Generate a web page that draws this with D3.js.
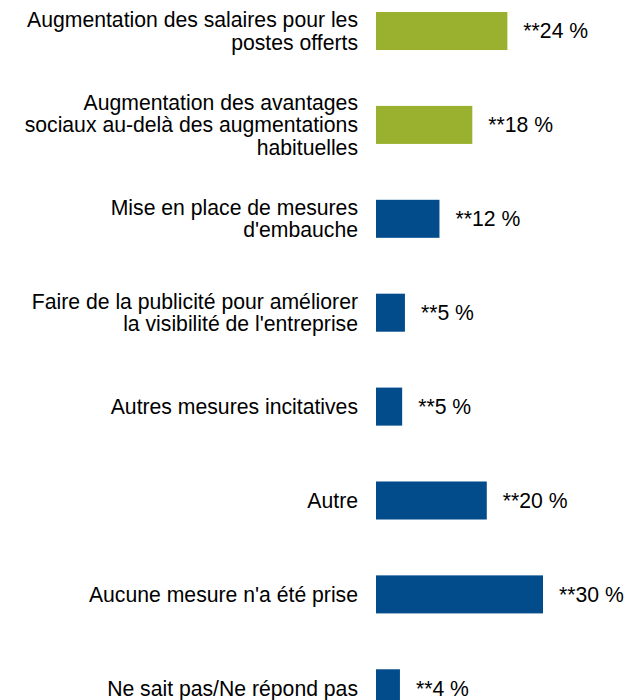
<!DOCTYPE html>
<html>
<head>
<meta charset="utf-8">
<script src="https://cdn.jsdelivr.net/npm/d3@7"></script>
<style>
  body { margin: 0; background: #fff; }
  text { font-family: Arial, "Liberation Sans", sans-serif; fill: #000; }
</style>
</head>
<body>
<div id="container"></div>
<script>
/* CONSTANTS AND GLOBALS */
const width = 639;
const height = 700;
const fontSize = 21.2;

// DATA
const categories = [
  ["Augmentation des salaires pour les", "postes offerts"],
  ["Augmentation des avantages", "sociaux au-delà des augmentations", "habituelles"],
  ["Mise en place de mesures", "d'embauche"],
  ["Faire de la publicité pour améliorer", "la visibilité de l'entreprise"],
  ["Autres mesures incitatives"],
  ["Autre"],
  ["Aucune mesure n'a été prise"],
  ["Ne sait pas/Ne répond pas"]
];
const values = [23.6, 17.3, 11.4, 5.2, 4.7, 19.9, 30.0, 4.3];
const valueLabels = ["**24 %", "**18 %", "**12 %", "**5 %", "**5 %", "**20 %", "**30 %", "**4 %"];
const groups = ["green", "green", "blue", "blue", "blue", "blue", "blue", "blue"];

const data = categories.map((c, i) => ({
  id: i,
  lines: c,
  value: values[i],
  label: valueLabels[i],
  group: groups[i]
}));

const color = d3.scaleOrdinal()
  .domain(["green", "blue"])
  .range(["#9AB12F", "#024C8C"]);

// SCALES
const xScale = d3.scaleLinear()
  .domain([0, 30])
  .range([376, 543]);

const yScale = d3.scaleBand()
  .domain(data.map(d => d.id))
  .range([12, 707.3])
  .paddingInner(0.595)
  .paddingOuter(0);

const svg = d3.select("#container")
  .append("svg")
  .attr("width", width)
  .attr("height", height);

// bars
svg.selectAll("rect.bar")
  .data(data)
  .join("rect")
  .attr("class", "bar")
  .attr("x", xScale(0))
  .attr("y", d => yScale(d.id))
  .attr("width", d => xScale(d.value) - xScale(0))
  .attr("height", yScale.bandwidth())
  .attr("fill", d => color(d.group));

// value labels
svg.selectAll("text.value")
  .data(data)
  .join("text")
  .attr("class", "value")
  .attr("x", d => xScale(d.value) + 16)
  .attr("y", d => yScale(d.id) + yScale.bandwidth() / 2)
  .attr("dy", "0.35em")
  .style("font-size", fontSize + "px")
  .text(d => d.label);

// category labels (right aligned, multi-line)
const lineH = 22.5;
const cats = svg.selectAll("text.cat")
  .data(data)
  .join("text")
  .attr("class", "cat")
  .attr("text-anchor", "end")
  .style("font-size", fontSize + "px");

cats.selectAll("tspan")
  .data(d => d.lines.map((l, i) => ({
    text: l,
    y: yScale(d.id) + yScale.bandwidth() / 2 + (i - (d.lines.length - 1) / 2) * lineH
  })))
  .join("tspan")
  .attr("x", 358)
  .attr("y", t => t.y)
  .attr("dy", "0.35em")
  .text(t => t.text);
</script>
</body>
</html>
